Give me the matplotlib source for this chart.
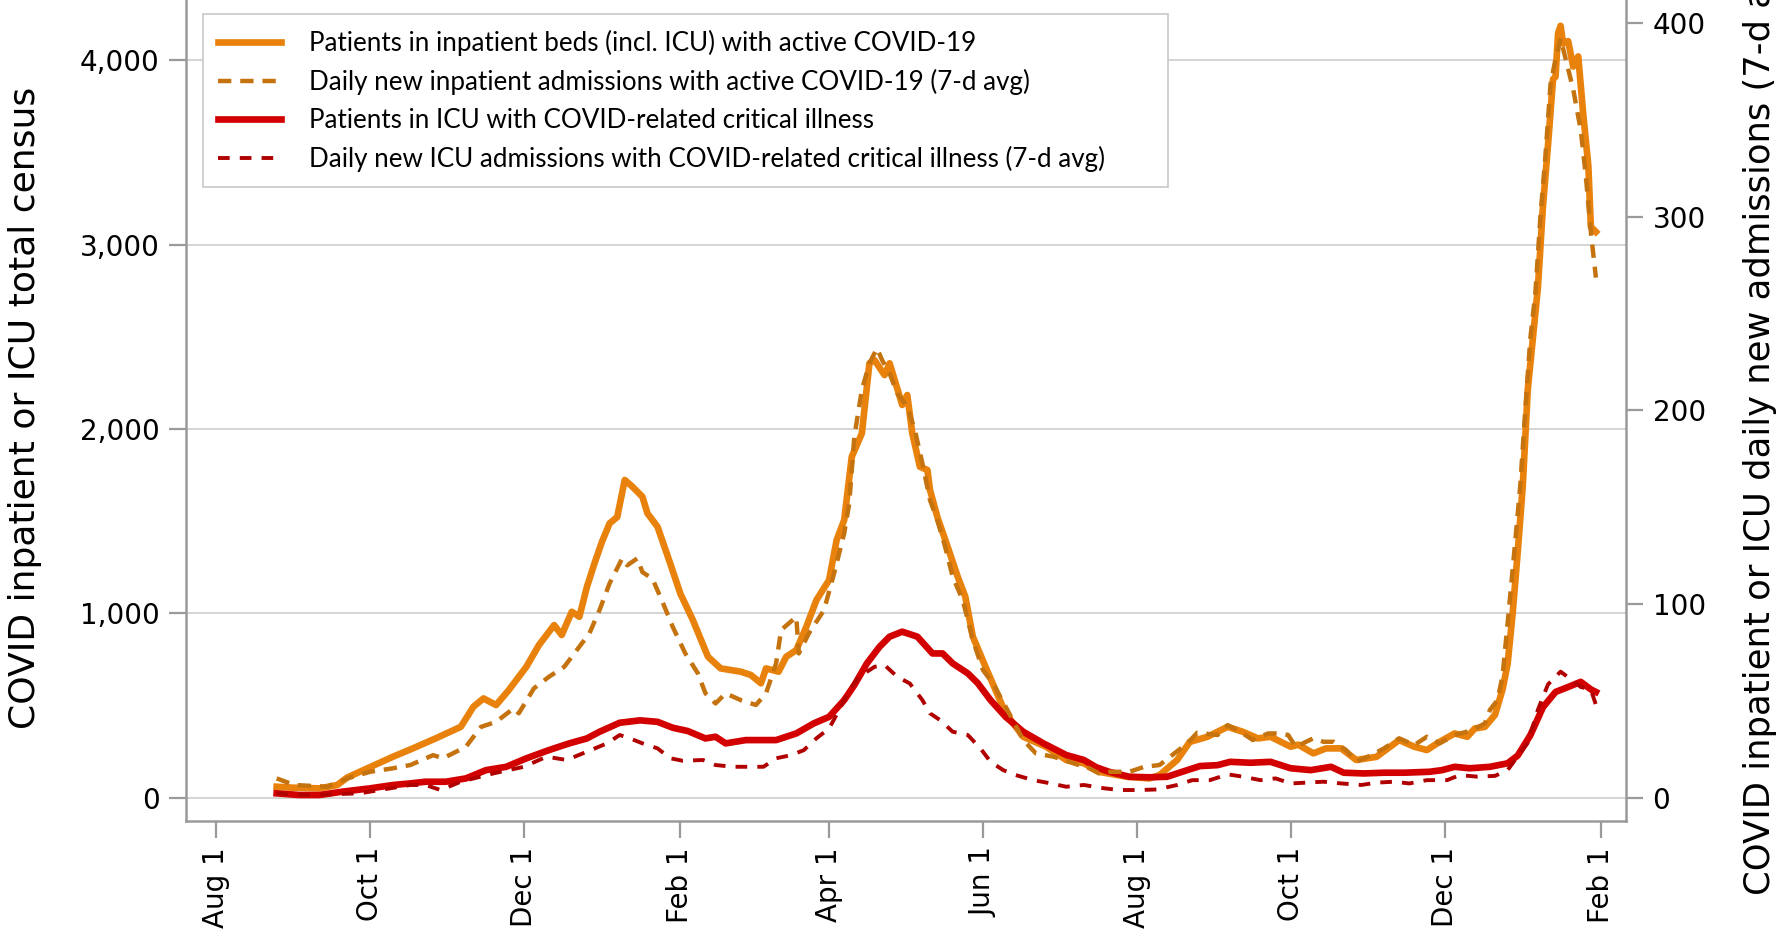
import numpy as np
import matplotlib
matplotlib.use("Agg")
import matplotlib.pyplot as plt
import matplotlib.dates as mdates
from matplotlib.ticker import FixedLocator, FuncFormatter

# days counted from 2020-08-01
START = np.datetime64("2020-08-01")

inpt_day = [24, 30, 41, 48, 52, 60, 70, 78, 87, 97, 102, 106, 111, 116, 123, 128, 134, 137, 141, 144,
            147, 150, 153, 156, 159, 162, 165, 169, 171, 175, 180, 184, 189, 195, 200, 208, 212, 216, 218, 223,
            226, 230, 234, 238, 243, 246, 249, 252, 256, 259, 261, 265, 267, 272, 274, 276, 279, 282, 283, 286,
            290, 294, 297, 300, 305, 309, 313, 320, 329, 337, 344, 350, 361, 370, 374, 381, 386, 393, 401, 407,
            413, 418, 426, 429, 435, 440, 446, 452, 460, 469, 475, 480, 485, 491, 496, 499, 503, 507, 510, 512,
            514, 516, 518, 520, 522, 524, 526, 528, 530, 531, 532, 533, 534, 536, 538, 540, 542, 544, 545, 547]
inpt_census = [60, 55, 51, 69, 110, 160, 222, 268, 322, 385, 494, 539, 503, 584, 711, 829, 937, 883, 1009, 982,
               1144, 1272, 1390, 1489, 1523, 1724, 1688, 1633, 1543, 1470, 1272, 1109, 964, 765, 702, 684, 666, 621, 702, 684,
               765, 801, 928, 1073, 1181, 1398, 1507, 1850, 1977, 2357, 2375, 2293, 2357, 2131, 2185, 1977, 1796, 1778, 1670, 1520,
               1362, 1199, 1091, 874, 711, 584, 458, 331, 277, 205, 187, 141, 114, 105, 123, 205, 303, 331, 385, 358,
               322, 331, 277, 288, 241, 268, 268, 205, 222, 313, 277, 259, 303, 349, 331, 376, 385, 450, 588, 726,
               1001, 1332, 1691, 2215, 2491, 2767, 3208, 3539, 3898, 3912, 4146, 4188, 4091, 4105, 3967, 4022, 3705, 3429, 3098, 3070]

adm_day = [24, 31, 44, 52, 61, 70, 77, 86, 90, 99, 105, 111, 118, 120, 126, 132, 138, 142, 148, 152,
           156, 161, 163, 167, 169, 173, 177, 181, 186, 191, 194, 198, 202, 208, 214, 218, 222, 224, 227, 230,
           231, 235, 241, 245, 249, 251, 253, 256, 259, 262, 264, 267, 270, 274, 277, 280, 283, 286, 289, 292,
           296, 300, 304, 308, 313, 320, 325, 332, 338, 342, 345, 350, 354, 362, 368, 374, 379, 385, 389, 397,
           401, 406, 411, 417, 422, 425, 428, 435, 439, 443, 448, 452, 458, 463, 469, 475, 480, 485, 491, 498,
           503, 505, 508, 510, 512, 515, 517, 519, 521, 523, 525, 527, 529, 531, 533, 535, 538, 541, 543, 545, 547]
adm_new = [10.0, 6.6, 5.7, 10.0, 13.4, 15.2, 16.9, 22.0, 20.4, 26.3, 36.6, 39.2, 46.2, 43.6, 56.5, 62.5, 67.6, 74.5, 84.9, 96.9,
           110.7, 123.6, 120.0, 123.6, 116.5, 113.0, 101.0, 88.3, 74.5, 64.2, 53.9, 48.7, 53.9, 50.4, 47.9, 53.9, 69.4, 86.6, 90.0, 93.4,
           74.5, 84.9, 96.9, 115.9, 136.5, 152.0, 186.4, 210.5, 224.3, 232.0, 226.0, 219.0, 208.8, 201.9, 189.8, 172.6, 153.7, 143.0, 129.6, 114.1,
           102.0, 81.4, 65.9, 59.0, 47.0, 29.8, 22.9, 21.2, 18.6, 16.9, 16.0, 12.6, 13.4, 13.4, 16.0, 16.9, 22.0, 28.1, 33.6, 32.4,
           37.5, 34.1, 29.8, 33.2, 33.2, 32.4, 26.3, 30.7, 28.9, 28.9, 24.6, 18.6, 22.0, 25.5, 30.7, 27.2, 31.5, 28.1, 32.4, 34.9,
           38.4, 45.4, 50.4, 63.0, 90.0, 132.0, 160.9, 200.3, 237.0, 260.6, 300.0, 331.5, 368.2, 381.4, 391.9, 381.4, 365.7, 344.6, 321.0, 292.0, 268.5]

icu_day = [24, 33, 41, 50, 61, 70, 77, 83, 91, 99, 107, 115, 123, 132, 140, 147, 152, 160, 168, 175,
           181, 187, 194, 198, 202, 210, 217, 222, 230, 237, 243, 249, 253, 258, 263, 267, 272, 278, 284, 288,
           292, 298, 302, 307, 313, 320, 328, 337, 344, 349, 354, 362, 370, 377, 383, 390, 397, 402, 410, 418,
           426, 434, 442, 447, 455, 463, 471, 481, 486, 491, 497, 505, 512, 516, 521, 526, 531, 536, 541, 545, 547]
icu_census = [24, 15, 15, 33, 51, 69, 78, 87, 87, 105, 150, 168, 214, 259, 295, 322, 358, 407, 420, 412,
              380, 362, 322, 331, 295, 313, 313, 313, 349, 404, 439, 530, 611, 729, 819, 874, 901, 874, 783, 783,
              729, 675, 621, 530, 439, 358, 295, 232, 205, 165, 141, 114, 111, 114, 141, 172, 177, 195, 190, 195,
              160, 150, 168, 136, 132, 136, 136, 141, 150, 168, 160, 168, 187, 229, 339, 491, 574, 601, 629, 588, 574]

icu_adm_day = [24, 37, 57, 77, 83, 89, 97, 110, 122, 131, 139, 147, 155, 160, 164, 169, 175, 180, 185, 193,
               198, 205, 212, 217, 222, 228, 233, 238, 243, 247, 251, 255, 261, 265, 270, 275, 280, 283, 287, 292,
               298, 303, 307, 312, 317, 324, 331, 337, 344, 352, 358, 366, 373, 381, 387, 394, 401, 407, 414, 420,
               426, 432, 439, 446, 454, 460, 467, 473, 480, 488, 493, 500, 507, 512, 520, 524, 528, 530, 533, 537,
               541, 545, 547]
icu_adm_new = [2.3, 1.4, 2.3, 6.6, 6.6, 4.0, 8.3, 12.6, 16.0, 21.2, 19.5, 23.8, 28.1, 32.4, 30.7, 28.1, 25.5, 20.4, 19.1, 19.5,
               16.9, 16.0, 16.0, 16.0, 20.4, 22.0, 24.6, 30.7, 35.8, 45.3, 55.6, 62.5, 67.6, 68.5, 62.5, 59.0, 50.4, 43.6, 40.1, 34.1,
               32.4, 25.5, 18.6, 14.3, 11.7, 9.1, 7.4, 5.7, 6.6, 4.9, 4.0, 4.0, 4.3, 6.6, 9.1, 9.1, 12.1, 10.9, 9.1, 10.0,
               7.4, 7.8, 8.3, 7.4, 6.6, 7.8, 8.3, 7.4, 9.1, 9.1, 11.7, 10.9, 11.3, 14.3, 28.4, 45.4, 58.5, 61.2, 65.1, 61.2,
               57.2, 55.9, 48.0]

labels = ["Patients in inpatient beds (incl. ICU) with active COVID-19",
          "Daily new inpatient admissions with active COVID-19 (7-d avg)",
          "Patients in ICU with COVID-related critical illness",
          "Daily new ICU admissions with COVID-related critical illness (7-d avg)"]


def to_dates(days):
    return START + np.array(days).astype("timedelta64[D]")


ORANGE = "#E8820C"
ORANGE_D = "#C4730F"
RED = "#D20000"
RED_D = "#B00000"
GREY = "#9a9a9a"

plt.rcParams["font.family"] = ["DejaVu Sans"]

fig = plt.figure(figsize=(17.87, 9.30), dpi=100)
ax = fig.add_axes([0.104, 0.1176, 0.806, 0.8824])
ax2 = ax.twinx()

l1, = ax.plot(to_dates(inpt_day), inpt_census, color=ORANGE, lw=4.8, solid_joinstyle="round")
l3, = ax.plot(to_dates(icu_day), icu_census, color=RED, lw=4.8, solid_joinstyle="round")
l2, = ax2.plot(to_dates(adm_day), adm_new, color=ORANGE_D, lw=3.2, ls=(0, (3.0, 2.0)))
l4, = ax2.plot(to_dates(icu_adm_day), icu_adm_new, color=RED_D, lw=2.8, ls=(0, (3.0, 2.6)))

ax.set_ylim(-124, 4328)
ax2.set_ylim(-124 / 10.51, 4328 / 10.51)
ax.set_xlim(START - np.timedelta64(12, "D"), START + np.timedelta64(559, "D"))

ax.yaxis.set_major_locator(FixedLocator([0, 1000, 2000, 3000, 4000]))
ax.yaxis.set_major_formatter(FuncFormatter(lambda v, p: f"{v:,.0f}"))
ax2.yaxis.set_major_locator(FixedLocator([0, 100, 200, 300, 400]))

ax.xaxis.set_major_locator(mdates.MonthLocator(bymonth=[2, 4, 6, 8, 10, 12]))
ax.xaxis.set_major_formatter(FuncFormatter(
    lambda v, p: mdates.num2date(v).strftime("%b ") + str(mdates.num2date(v).day)))
plt.setp(ax.get_xticklabels(), rotation=90)

ax.grid(axis="y", color="#d4d4d4", lw=1.4)
ax.set_axisbelow(True)

for s in ["top", "right"]:
    ax.spines[s].set_visible(False)
for s in ["top", "left", "bottom"]:
    ax2.spines[s].set_visible(False)
for s in [ax.spines["left"], ax.spines["bottom"], ax2.spines["right"]]:
    s.set_color(GREY)
    s.set_linewidth(1.8)

ax.tick_params(axis="both", length=12, width=1.6, color=GREY, labelsize=20, pad=7)
ax2.tick_params(axis="y", length=12, width=1.6, color=GREY, labelsize=20, pad=7)

fig.text(0.014, (930 - 729) / 930, "COVID inpatient or ICU total census", rotation=90,
         ha="center", va="bottom", fontsize=26)
# the reference crops this label at the top edge
fig.text(0.985, (930 - 895) / 930, "COVID inpatient or ICU daily new admissions (7-d avg)", rotation=90,
         ha="center", va="bottom", fontsize=25.5)

leg = ax2.legend([l1, l2, l3, l4], labels, loc="upper left",
                 bbox_to_anchor=(0.0118, 0.775, 0.670, 0.208), mode="expand",
                 borderaxespad=0, prop={"family": "Lato", "size": 18.7}, handlelength=2.4,
                 handletextpad=1.1, labelspacing=0.5, borderpad=0.6, fancybox=False,
                 framealpha=1, edgecolor="#c8c8c8")
leg.get_frame().set_linewidth(1.2)

fig.savefig("out.png", dpi=100)
